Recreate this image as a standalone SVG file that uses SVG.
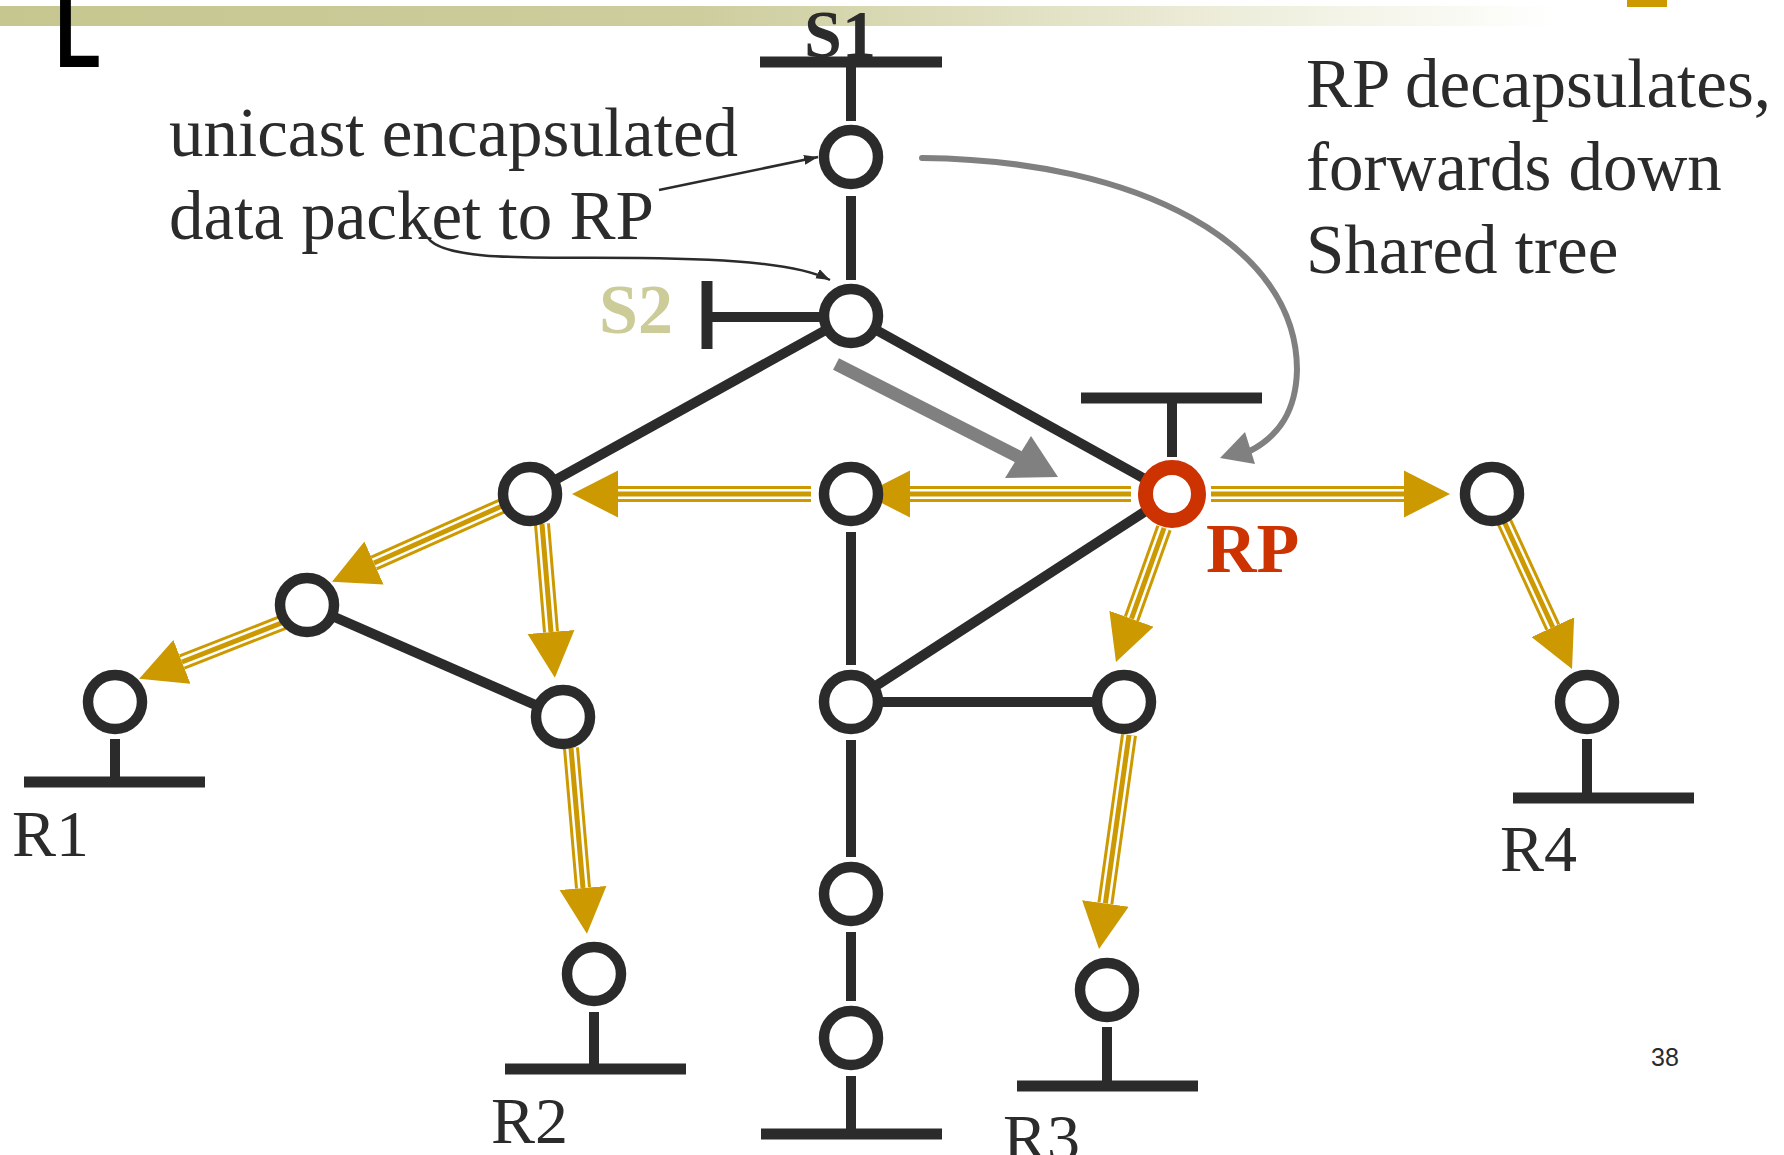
<svg xmlns="http://www.w3.org/2000/svg" width="1784" height="1155" viewBox="0 0 1784 1155">
<style>
.txt{font-family:"Liberation Serif","Times New Roman",serif;fill:#2b2b2b}
.bold{font-weight:bold}
.lnk{stroke:#2b2b2b;stroke-width:10;fill:none}
.bar{stroke:#2b2b2b;stroke-width:11;fill:none}
.node{fill:#ffffff;stroke:#2b2b2b;stroke-width:10.5}
.g1{stroke:#cc9900;stroke-width:16;fill:none}
.g2{stroke:#ffffff;stroke-width:10;fill:none}
.g3{stroke:#cc9900;stroke-width:5;fill:none}
.ann{stroke:#2b2b2b;stroke-width:2.5;fill:none}
.gray{stroke:#808080;fill:none}
</style>
<defs>
<linearGradient id="topbar" gradientUnits="userSpaceOnUse" x1="0" y1="0" x2="1560" y2="0">
<stop offset="0" stop-color="#c6c690"/>
<stop offset="0.45" stop-color="#cdcd9e"/>
<stop offset="0.8" stop-color="#eeeedd"/>
<stop offset="1" stop-color="#ffffff"/>
</linearGradient>
<marker id="goldHead" markerUnits="userSpaceOnUse" viewBox="0 -24 47 48" markerWidth="47" markerHeight="48" refX="0" refY="0" orient="auto">
<path d="M0,-23.5 L46,0 L0,23.5 Z" fill="#cc9900"/>
</marker>
<marker id="annHead" markerUnits="userSpaceOnUse" viewBox="0 -6 15 12" markerWidth="15" markerHeight="12" refX="14" refY="0" orient="auto">
<path d="M0,-5 L14,0 L0,5 Z" fill="#2b2b2b"/>
</marker>
</defs>
<rect width="1784" height="1155" fill="#ffffff"/>
<rect x="0" y="6" width="1784" height="20" fill="url(#topbar)"/>
<rect x="1627" y="0" width="40" height="7" fill="#cc9900"/>
<text x="55" y="67" font-family="Liberation Sans, Arial, sans-serif" font-weight="bold" font-size="100" fill="#000000" textLength="46" lengthAdjust="spacingAndGlyphs">L</text>

<g id="connectors">
<line class="lnk" x1="851" y1="196" x2="851" y2="280"/>
<line class="lnk" x1="851" y1="316" x2="530" y2="494"/>
<line class="lnk" x1="851" y1="316" x2="1172" y2="494"/>
<line class="lnk" x1="851" y1="532" x2="851" y2="665"/>
<line class="lnk" x1="851" y1="740" x2="851" y2="857"/>
<line class="lnk" x1="851" y1="932" x2="851" y2="1001"/>
<line class="lnk" x1="851" y1="702" x2="1172" y2="494"/>
<line class="lnk" x1="851" y1="702" x2="1124" y2="702"/>
<line class="lnk" x1="307" y1="605" x2="563" y2="717"/>

<g id="gold-arrows">
<g><line class="g1" x1="1211" y1="494" x2="1404" y2="494" marker-end="url(#goldHead)"/><line class="g2" x1="1211" y1="494" x2="1404" y2="494"/><line class="g3" x1="1211" y1="494" x2="1404" y2="494"/></g>
<g><line class="g1" x1="1131" y1="494" x2="910" y2="494" marker-end="url(#goldHead)"/><line class="g2" x1="1131" y1="494" x2="910" y2="494"/><line class="g3" x1="1131" y1="494" x2="910" y2="494"/></g>
<g><line class="g1" x1="811" y1="494" x2="618" y2="494" marker-end="url(#goldHead)"/><line class="g2" x1="811" y1="494" x2="618" y2="494"/><line class="g3" x1="811" y1="494" x2="618" y2="494"/></g>
<g><line class="g1" x1="502" y1="506" x2="374" y2="563" marker-end="url(#goldHead)"/><line class="g2" x1="502" y1="506" x2="374" y2="563"/><line class="g3" x1="502" y1="506" x2="374" y2="563"/></g>
<g><line class="g1" x1="284" y1="622" x2="182" y2="662" marker-end="url(#goldHead)"/><line class="g2" x1="284" y1="622" x2="182" y2="662"/><line class="g3" x1="284" y1="622" x2="182" y2="662"/></g>
<g><line class="g1" x1="542" y1="524" x2="551" y2="632" marker-end="url(#goldHead)"/><line class="g2" x1="542" y1="524" x2="551" y2="632"/><line class="g3" x1="542" y1="524" x2="551" y2="632"/></g>
<g><line class="g1" x1="571" y1="748" x2="583" y2="888" marker-end="url(#goldHead)"/><line class="g2" x1="571" y1="748" x2="583" y2="888"/><line class="g3" x1="571" y1="748" x2="583" y2="888"/></g>
<g><line class="g1" x1="1164" y1="528" x2="1131.5" y2="618.7" marker-end="url(#goldHead)"/><line class="g2" x1="1164" y1="528" x2="1131.5" y2="618.7"/><line class="g3" x1="1164" y1="528" x2="1131.5" y2="618.7"/></g>
<g><line class="g1" x1="1129" y1="735" x2="1105.4" y2="903.4" marker-end="url(#goldHead)"/><line class="g2" x1="1129" y1="735" x2="1105.4" y2="903.4"/><line class="g3" x1="1129" y1="735" x2="1105.4" y2="903.4"/></g>
<g><line class="g1" x1="1503" y1="519" x2="1552.8" y2="627.2" marker-end="url(#goldHead)"/><line class="g2" x1="1503" y1="519" x2="1552.8" y2="627.2"/><line class="g3" x1="1503" y1="519" x2="1552.8" y2="627.2"/></g>
</g>

<g id="gray-arrows">
<line class="gray" stroke-width="13" x1="836" y1="364" x2="1019" y2="457"/>
<polygon points="1058,477 1005,478 1031,436" fill="#808080"/>
<path class="gray" stroke-width="6" stroke-linecap="round" d="M922,158 C1140,160 1297,245 1297,370 C1296,410 1280,436 1248,452"/>
<polygon points="1220,458 1245,432 1255,464" fill="#808080"/>
</g>

<g id="annotation-arrows">
<line class="ann" x1="659" y1="190" x2="818" y2="157" marker-end="url(#annHead)"/>
<path class="ann" d="M428,238 C445,262 540,257 640,258 C740,259 800,265 830,280" marker-end="url(#annHead)"/>
</g>
</g>

<g id="host-S1">
<line class="bar" x1="760" y1="62" x2="942" y2="62"/>
<line class="lnk" x1="851" y1="62" x2="851" y2="121"/>
<text class="txt bold" x="840" y="57" font-size="68" text-anchor="middle">S1</text>
</g>
<g id="host-S2">
<line class="bar" x1="707" y1="281" x2="707" y2="349"/>
<line class="lnk" x1="707" y1="317" x2="820" y2="317"/>
<text class="txt bold" x="636" y="333" font-size="70" text-anchor="middle" style="fill:#cccc99">S2</text>
</g>
<g id="host-RP">
<line class="bar" x1="1081" y1="398" x2="1262" y2="398"/>
<line class="lnk" x1="1172" y1="398" x2="1172" y2="457"/>
</g>
<g id="host-R1">
<line class="bar" x1="24" y1="782" x2="205" y2="782"/>
<line class="lnk" x1="115" y1="739" x2="115" y2="782"/>
<text class="txt" x="12" y="856" font-size="66">R1</text>
</g>
<g id="host-R2">
<line class="bar" x1="505" y1="1069" x2="686" y2="1069"/>
<line class="lnk" x1="594" y1="1012" x2="594" y2="1069"/>
<text class="txt" x="491" y="1143" font-size="66">R2</text>
</g>
<g id="host-bottom">
<line class="bar" x1="761" y1="1134" x2="942" y2="1134"/>
<line class="lnk" x1="851" y1="1076" x2="851" y2="1134"/>
</g>
<g id="host-R3">
<line class="bar" x1="1017" y1="1086" x2="1198" y2="1086"/>
<line class="lnk" x1="1107" y1="1027" x2="1107" y2="1086"/>
<text class="txt" x="1003" y="1160" font-size="66">R3</text>
</g>
<g id="host-R4">
<line class="bar" x1="1513" y1="798" x2="1694" y2="798"/>
<line class="lnk" x1="1587" y1="739" x2="1587" y2="798"/>
<text class="txt" x="1500" y="871" font-size="66">R4</text>
</g>

<g id="n-S1"><circle class="node" cx="851" cy="157" r="27"/></g>
<g id="n-S2"><circle class="node" cx="851" cy="316" r="27"/></g>
<g id="n-A"><circle class="node" cx="530" cy="494" r="27"/></g>
<g id="n-B"><circle class="node" cx="851" cy="494" r="27"/></g>
<g id="n-RP"><circle cx="1172" cy="494" r="26.5" fill="#ffffff" stroke="#cc3300" stroke-width="15"/>
<text class="txt bold" x="1206" y="572" font-size="70" style="fill:#cc3300">RP</text></g>
<g id="n-C"><circle class="node" cx="1492" cy="494" r="27"/></g>
<g id="n-D"><circle class="node" cx="307" cy="605" r="27"/></g>
<g id="n-R1"><circle class="node" cx="115" cy="702" r="27"/></g>
<g id="n-E"><circle class="node" cx="563" cy="717" r="27"/></g>
<g id="n-F"><circle class="node" cx="851" cy="702" r="27"/></g>
<g id="n-G"><circle class="node" cx="1124" cy="702" r="27"/></g>
<g id="n-R4"><circle class="node" cx="1587" cy="702" r="27"/></g>
<g id="n-H"><circle class="node" cx="851" cy="894" r="27"/></g>
<g id="n-R2"><circle class="node" cx="594" cy="974" r="27"/></g>
<g id="n-R3"><circle class="node" cx="1107" cy="990" r="27"/></g>
<g id="n-I"><circle class="node" cx="851" cy="1038" r="27"/></g>

<g id="labels">
<text class="txt" x="169" y="156" font-size="69">unicast encapsulated</text>
<text class="txt" x="169" y="239" font-size="69">data packet to RP</text>
<text class="txt" x="1306" y="107" font-size="69">RP decapsulates,</text>
<text class="txt" x="1306" y="190" font-size="69">forwards down</text>
<text class="txt" x="1306" y="273" font-size="69">Shared tree</text>
<text x="1665" y="1066" font-family="Liberation Sans, Arial, sans-serif" font-size="25" fill="#2b2b2b" text-anchor="middle">38</text>
</g>
</svg>
